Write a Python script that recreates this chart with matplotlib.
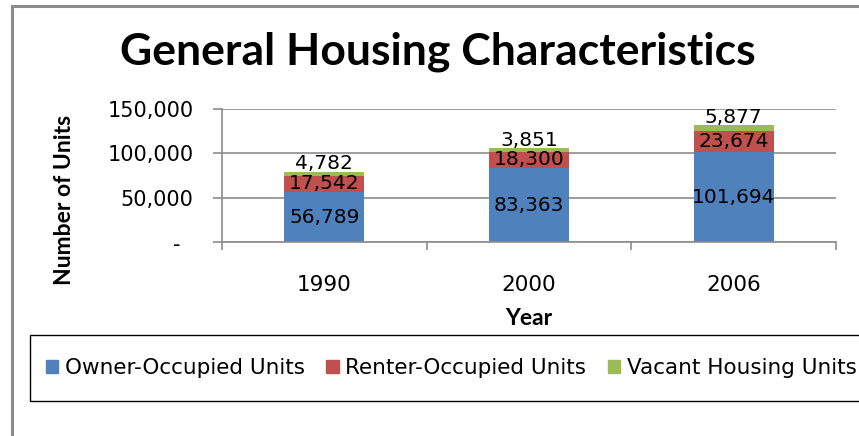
import numpy as np
import matplotlib
matplotlib.use("Agg")
import matplotlib.pyplot as plt
from matplotlib.patches import Rectangle, Patch
from matplotlib.ticker import FuncFormatter

# data
years = ["1990", "2000", "2006"]
owner = [56789, 83363, 101694]
renter = [17542, 18300, 23674]
vacant = [4782, 3851, 5877]
series_names = ["Owner-Occupied Units", "Renter-Occupied Units", "Vacant Housing Units"]
colors = ["#4F81BD", "#C0504D", "#9BBB59"]

W, H = 859, 436
fig = plt.figure(figsize=(W / 100, H / 100), dpi=100)

# outer chart frame (cropped at right and bottom)
fig.patches.append(Rectangle((12 / W, -0.1), 1.2, 1 - 6 / H + 0.1, transform=fig.transFigure,
                             fill=False, edgecolor="#8c8c8c", linewidth=2.2))

ax = fig.add_axes([222 / W, 1 - 242.5 / H, (836 - 222) / W, (242.5 - 108.5) / H])

x = np.arange(len(years))
bw = 0.39
b1 = ax.bar(x, owner, bw, color=colors[0], label=series_names[0])
b2 = ax.bar(x, renter, bw, bottom=owner, color=colors[1], label=series_names[1])
bottom2 = np.array(owner) + np.array(renter)
b3 = ax.bar(x, vacant, bw, bottom=bottom2, color=colors[2], label=series_names[2])

fmt = lambda v: f"{v:,.0f}"
ax.bar_label(b1, labels=[fmt(v) for v in owner], label_type="center", fontsize=14.5, color="black")
ax.bar_label(b2, labels=[fmt(v) for v in renter], label_type="center", fontsize=14.5, color="black")
ax.bar_label(b3, labels=[fmt(v) for v in vacant], label_type="edge", padding=-1, fontsize=14.5, color="black")

ax.set_xlim(-0.5, len(years) - 0.5)
ax.set_ylim(0, 150000)
ax.set_yticks([0, 50000, 100000, 150000])
ax.yaxis.set_major_formatter(FuncFormatter(lambda v, p: "-  " if v == 0 else f"{v:,.0f}"))
ax.grid(axis="y", color="#8c8c8c", linewidth=1.2)
ax.set_axisbelow(True)

ax.set_xticks(x)
ax.set_xticklabels(years)
ax.set_xticks(np.arange(len(years) + 1) - 0.5, minor=True)
ax.tick_params(axis="x", which="major", length=0, pad=23.5, labelsize=15.5)
ax.tick_params(axis="x", which="minor", length=6, color="#8c8c8c", width=1.2)
ax.tick_params(axis="y", length=6.5, color="#8c8c8c", width=1.2, labelsize=15, pad=14)

for s in ["top", "right"]:
    ax.spines[s].set_visible(False)
for s in ["left", "bottom"]:
    ax.spines[s].set_color("#8c8c8c")
    ax.spines[s].set_linewidth(1.2)

ax.set_xlabel("Year", fontsize=16.5, fontweight="bold", family="Lato", labelpad=9)
ax.set_ylabel("Number of Units", fontsize=16.5, fontweight="bold", family="Lato")
ax.yaxis.set_label_coords((75 - 222) / 614, (242.5 - 200) / 134)

fig.text(438 / W, 1 - 52 / H, "General Housing Characteristics", ha="center", va="center",
         fontsize=32, fontweight="bold", family="Lato")

# legend box (cropped at right)
fig.patches.append(Rectangle((30 / W, 1 - 401 / H), 1.2, 66 / H, transform=fig.transFigure,
                             fill=False, edgecolor="black", linewidth=1.0))
handles = [Patch(color=c) for c in colors]
fig.legend(handles, series_names, loc="center left", bbox_to_anchor=(46 / W, 1 - 368 / H),
           ncol=3, frameon=False, borderpad=0, borderaxespad=0, handlelength=0.58,
           handleheight=0.58, handletextpad=0.3, columnspacing=1.0,
           prop={"family": "DejaVu Sans", "size": 15.5})

fig.savefig("out.png", dpi=100)
